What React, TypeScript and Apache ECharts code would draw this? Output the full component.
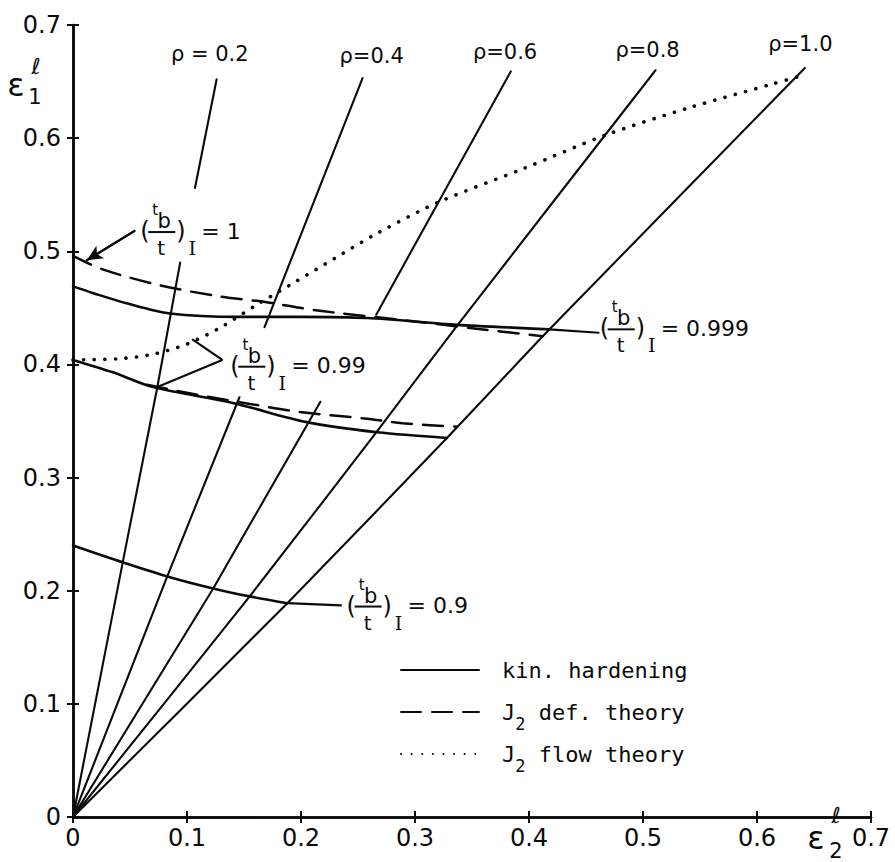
import React, { useEffect, useRef } from 'react';
import * as echarts from 'echarts';

// ---- axis ticks ----
const xTicks = [0, 0.1, 0.2, 0.3, 0.4, 0.5, 0.6, 0.7];
const yTicks = [0, 0.1, 0.2, 0.3, 0.4, 0.5, 0.6, 0.7];

// ---- strain paths rho (lower / upper parts, interrupted by labels) ----
const rho02A = [[0, 0], [0.044, 0.227], [0.074, 0.38], [0.094, 0.49]];
const rho02B = [[0.107, 0.556], [0.126, 0.652]];
const rho04A = [[0, 0], [0.082, 0.211], [0.146, 0.371]];
const rho04B = [[0.168, 0.433], [0.254, 0.653]];
const rho06A = [[0, 0], [0.123, 0.202], [0.217, 0.367]];
const rho06B = [[0.266, 0.444], [0.384, 0.659]];
const rho08 = [[0, 0], [0.155, 0.195], [0.266, 0.34], [0.339, 0.437], [0.511, 0.66]];
const rho10 = [[0, 0], [0.188, 0.189], [0.328, 0.335], [0.418, 0.431], [0.642, 0.662]];

// ---- kin. hardening curves ----
const kin999 = [[0, 0.469], [0.018, 0.463], [0.047, 0.454], [0.085, 0.445], [0.146, 0.442], [0.199, 0.442], [0.258, 0.441], [0.337, 0.435], [0.418, 0.431]];
const kin99 = [[0, 0.404], [0.035, 0.393], [0.07, 0.38], [0.14, 0.366], [0.205, 0.349], [0.267, 0.34], [0.328, 0.335]];
const kin9 = [[0, 0.24], [0.044, 0.225], [0.085, 0.212], [0.123, 0.202], [0.155, 0.195], [0.188, 0.189]];

// ---- J2 deformation theory ----
const def1 = [[0, 0.496], [0.026, 0.484], [0.076, 0.47], [0.129, 0.46], [0.17, 0.455], [0.199, 0.45], [0.228, 0.446], [0.3, 0.438], [0.35, 0.432], [0.412, 0.425]];
const def99 = [[0.065, 0.382], [0.11, 0.373], [0.15, 0.366], [0.199, 0.358], [0.258, 0.352], [0.289, 0.348], [0.337, 0.345]];

// ---- J2 flow theory ----
const flow = [[0, 0.404], [0.04, 0.405], [0.07, 0.409], [0.1, 0.418], [0.13, 0.433], [0.16, 0.452], [0.19, 0.47], [0.23, 0.494], [0.267, 0.516], [0.322, 0.544], [0.395, 0.573], [0.468, 0.603], [0.541, 0.627], [0.614, 0.648], [0.635, 0.654]];

// ---- leader lines for the labels ----
const lead999 = [[0.418, 0.431], [0.461, 0.428]];
const lead9 = [[0.188, 0.189], [0.235, 0.187]];
const lead99 = [[0.105, 0.422], [0.131, 0.404], [0.074, 0.38]];
const arrow1 = [[0.054, 0.518], [0.012, 0.492]];

// ---- label texts and anchors (data coords) ----
const rhoLabels = ['ρ = 0.2', 'ρ=0.4', 'ρ=0.6', 'ρ=0.8', 'ρ=1.0'];
const rhoLabelPos = [[0.12, 0.674], [0.262, 0.673], [0.379, 0.676], [0.504, 0.678], [0.638, 0.683]];
const fracValues = ['= 1', '= 0.99', '= 0.999', '= 0.9'];
const fracPos = [[0.059, 0.517], [0.138, 0.398], [0.462, 0.431], [0.24, 0.186]];
const legendNames = ['kin. hardening', 'J2 def. theory', 'J2 flow theory'];

const FONT = 'DejaVu Sans';
const INK = '#0a0a0a';

function curve(name: string, data: number[][], type: any, width = 2.4, smooth: any = 0.3, extra: any = {}) {
  return {
    type: 'line', name, data, symbol: 'none', showSymbol: false, smooth, silent: true,
    xAxisIndex: 0, yAxisIndex: 0,
    lineStyle: { color: INK, width, type, cap: 'round', ...extra },
    itemStyle: { color: INK },
    z: 3,
  };
}

function txt(x: number, y: number, text: string, size: number, family = FONT, align = 'center') {
  return {
    type: 'text', x, y, silent: true,
    style: {
      text, fill: INK, fontSize: size, fontFamily: family,
      textAlign: align, align, textVerticalAlign: 'middle', verticalAlign: 'middle',
    },
  };
}

function fracLabel(px: number, py: number, value: string) {
  return {
    type: 'group', x: px, y: py, silent: true,
    children: [
      txt(0, -1, '(', 24, FONT, 'left'),
      txt(15, -22, 't', 15),
      txt(24, -11, 'b', 21),
      { type: 'line', shape: { x1: 8, y1: 0, x2: 35, y2: 0 }, style: { stroke: INK, lineWidth: 2 } },
      txt(21, 16, 't', 20),
      txt(36, -1, ')', 24, FONT, 'left'),
      txt(52, 16, 'I', 19, 'DejaVu Serif'),
      txt(61, -1, value, 22, FONT, 'left'),
    ],
  };
}

export default function App() {
  const ref = useRef<HTMLDivElement>(null);
  useEffect(() => {
    if (!ref.current) return;
    const chart = echarts.init(ref.current, null, { renderer: 'svg' });
    const dashed = [20, 11];
    const dotted = [0.1, 10.5];
    const fmt = (v: number) => (v === 0 ? '0' : String(+v.toFixed(1)));
    const axisCommon = {
      type: 'value', min: 0, max: 0.7, interval: 0.1,
      axisLine: { show: true, lineStyle: { color: INK, width: 2.5 } },
      axisTick: { show: true, inside: true, length: 6, lineStyle: { color: INK, width: 2 } },
      splitLine: { show: false },
    };
    const option: any = {
      animation: false,
      backgroundColor: '#ffffff',
      grid: { left: 73, right: 24, top: 25, bottom: 45, containLabel: false },
      xAxis: [
        {
          ...axisCommon, position: 'bottom',
          axisLabel: { show: true, color: INK, fontSize: 24, fontFamily: FONT, margin: 9, showMinLabel: true, showMaxLabel: true, formatter: (v: number) => fmt(xTicks[Math.round(v * 10)] ?? v) },
        },
        { ...axisCommon, position: 'top', axisLabel: { show: false } },
      ],
      yAxis: [
        {
          ...axisCommon, position: 'left',
          axisLabel: { show: true, color: INK, fontSize: 24, fontFamily: FONT, margin: 12, showMinLabel: true, showMaxLabel: true, formatter: (v: number) => fmt(yTicks[Math.round(v * 10)] ?? v) },
        },
        { ...axisCommon, position: 'right', axisLabel: { show: false } },
      ],
      legend: {
        data: legendNames,
        orient: 'vertical', left: 395, top: 645,
        itemWidth: 78, itemHeight: 14, itemGap: 2,
        selectedMode: false,
        itemStyle: { opacity: 0, borderWidth: 0 },
        formatter: (name: string) => {
          if (name.startsWith('J2')) return '{m|J}{s|2}{m|' + name.slice(2) + '}';
          return '{m|' + name + '}';
        },
        textStyle: {
          color: INK, fontSize: 22, fontFamily: 'DejaVu Sans Mono', lineHeight: 40,
          padding: [0, 0, 0, 18],
          rich: {
            m: { color: INK, fontSize: 22, fontFamily: 'DejaVu Sans Mono', lineHeight: 40 },
            s: { color: INK, fontSize: 17, fontFamily: 'DejaVu Sans Mono', lineHeight: 17, padding: [23, 0, 0, 0] },
          },
        },
      },
      series: [
        curve('kin. hardening', kin999, 'solid', 2.6),
        curve('kin. hardening', kin99, 'solid', 2.6),
        curve('kin. hardening', kin9, 'solid', 2.6),
        curve('J2 def. theory', def1, dashed, 2.5),
        curve('J2 def. theory', def99, dashed, 2.5),
        curve('J2 flow theory', flow, dotted, 3.6),
        curve('rho', rho02A, 'solid', 2.1, false),
        curve('rho', rho02B, 'solid', 2.1, false),
        curve('rho', rho04A, 'solid', 2.1, false),
        curve('rho', rho04B, 'solid', 2.1, false),
        curve('rho', rho06A, 'solid', 2.1, false),
        curve('rho', rho06B, 'solid', 2.1, false),
        curve('rho', rho08, 'solid', 2.1, 0.2),
        curve('rho', rho10, 'solid', 2.1, 0.2),
        curve('leader', lead999, 'solid', 2.2, false),
        curve('leader', lead9, 'solid', 2.2, false),
        curve('leader', lead99, 'solid', 2.2, false),
        {
          ...curve('leader', arrow1, 'solid', 2.2, false),
          markLine: {
            silent: true, animation: false,
            symbol: ['none', 'arrow'], symbolSize: [11, 16],
            label: { show: false },
            lineStyle: { color: INK, width: 2.2, type: 'solid' },
            data: [[{ coord: arrow1[0] }, { coord: arrow1[1] }]],
          },
        },
      ],
    };
    chart.setOption(option);

    const p = (x: number, y: number) => chart.convertToPixel({ xAxisIndex: 0, yAxisIndex: 0 }, [x, y]) as number[];
    const [gx0, gy0] = p(0, 0);
    const [gx1, gy1] = p(0.7, 0.7);
    const graphics: any[] = [];
    rhoLabels.forEach((t, i) => {
      const [x, y] = p(rhoLabelPos[i][0], rhoLabelPos[i][1]);
      graphics.push(txt(x, y, t, 21));
    });
    fracValues.forEach((v, i) => {
      const [x, y] = p(fracPos[i][0], fracPos[i][1]);
      graphics.push(fracLabel(x, y, v));
    });
    // axis names  ε1ℓ / ε2ℓ
    graphics.push(txt(gx0 - 57, gy1 + 60, 'ε', 32));
    graphics.push(txt(gx0 - 38, gy1 + 72, '1', 21));
    graphics.push(txt(gx0 - 37, gy1 + 41, 'ℓ', 22));
    graphics.push(txt(gx1 - 55, gy0 + 21, 'ε', 32));
    graphics.push(txt(gx1 - 35, gy0 - 2, 'ℓ', 22));
    graphics.push(txt(gx1 - 35, gy0 + 34, '2', 21));
    chart.setOption({ graphic: graphics });

    return () => chart.dispose();
  }, []);
  return <div ref={ref} style={{ position: 'absolute', left: 0, top: 0, width: 895, height: 862 }} />;
}
